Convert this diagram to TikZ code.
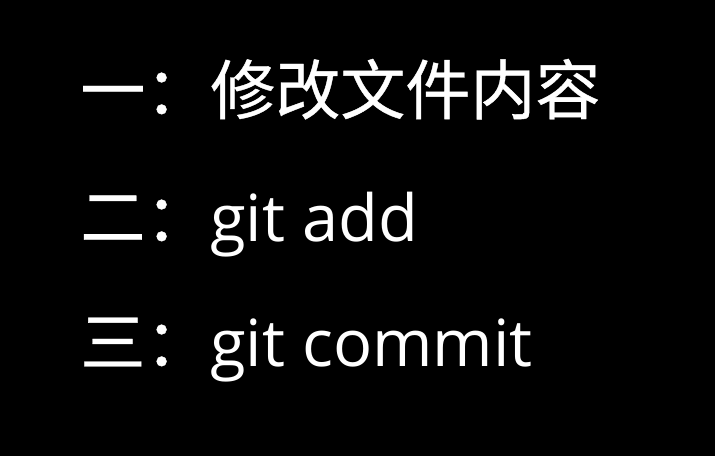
\documentclass[tikz,border=0pt]{standalone}
\usepackage{fontspec}
\setmainfont{Open Sans}
\newfontfamily\cjk[FakeBold=0.6]{Noto Sans CJK SC}
\usepackage{tikz}
\tikzstyle{Line}=[anchor=base west,inner sep=0pt,text=white,
font=\fontsize{37}{44}\selectfont]

\begin{document}
\begin{tikzpicture}[x=0.02cm,y=-0.02cm]
        \fill[black](0,0)rectangle(715,456);
        \node[Line](1)at(80,114){\cjk 一：修改文件内容};
        \node[Line](2)at(80,241){{\cjk 二：}git add};
        \node[Line](3)at(80,366){{\cjk 三：}git commit};
    \end{tikzpicture}
\end{document}
